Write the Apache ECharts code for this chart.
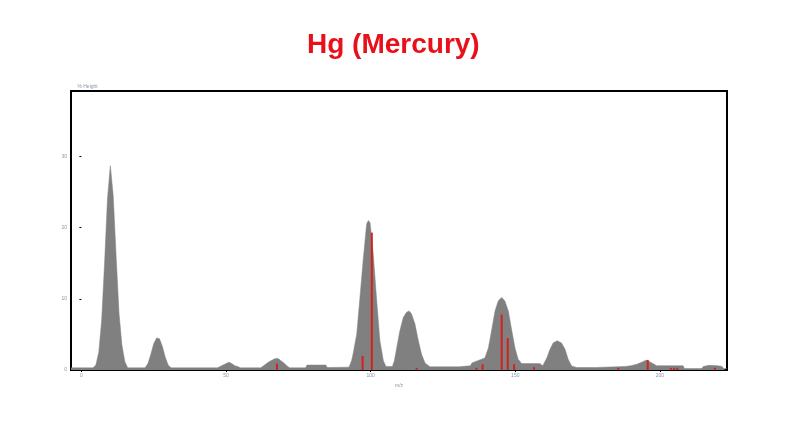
<!DOCTYPE html>
<html>
<head>
<meta charset="utf-8">
<script src="https://cdn.jsdelivr.net/npm/echarts@6/dist/echarts.min.js"></script>
<style>html,body{margin:0;padding:0;background:#fff}#c{width:802px;height:421px}</style>
</head>
<body>
<div id="c"></div>
<script>
// Measured spectrum (gray profile)
const specX = [-3.6, 4, 5, 6, 7, 8, 9, 10, 11, 12, 13, 14, 15, 16,
  22, 23, 24, 25, 26, 27, 28, 29, 30, 31,
  47, 48, 49, 50, 51, 52, 53, 54, 55,
  62, 63, 64, 65, 66, 67, 68, 69, 70, 71, 72,
  77.5, 78, 84.5, 85,
  92.5, 93.4, 94, 95.2, 96.3, 97.4, 98.6, 99.2, 99.8, 100.9, 102.1, 103.2, 104.4, 105.3,
  107.5, 108.2, 109, 110.1, 111.3, 112.4, 113.3, 114.1, 115.3, 116.5, 117.6, 118.8, 120.5,
  130.5, 131, 134.5, 135,
  139.5, 140.7, 141.8, 143, 144.1, 145.3, 146.4, 147.6, 148.8, 149.9, 151, 152.2, 158.5,
  159.5, 160.9, 162, 163.1, 164.5, 166, 167.2, 168.3, 169.5, 171.2, 178, 178.5,
  188, 190, 192, 193.7, 195.4, 197.2, 198.9, 208, 208.5,
  214.5, 215, 217, 220, 221.5, 222, 223.2];
const specY = [0.3, 0.3, 0.7, 2.5, 7, 15, 24, 28.7, 24.5, 16, 8, 3.5, 1.2, 0.3,
  0.3, 0.9, 2.2, 3.7, 4.5, 4.4, 3.3, 1.8, 0.7, 0.3,
  0.3, 0.5, 0.7, 0.9, 1.1, 0.9, 0.6, 0.5, 0.3,
  0.3, 0.6, 0.9, 1.2, 1.4, 1.6, 1.6, 1.3, 1.0, 0.6, 0.3,
  0.3, 0.7, 0.7, 0.35,
  0.4, 1.3, 2.4, 5.1, 10.2, 15.4, 20.5, 21, 20.7, 16.3, 9.7, 4.1, 1.3, 0.5,
  0.5, 1.3, 3.1, 5.5, 7.4, 8.1, 8.3, 7.9, 6.5, 4.1, 2.2, 1.0, 0.45,
  0.45, 0.6, 0.6, 1.0,
  1.7, 3.1, 5.5, 8.3, 9.7, 10.2, 9.7, 8.3, 5.5, 3.1, 1.5, 0.9, 0.9,
  0.6, 1.7, 2.9, 3.8, 4.1, 3.8, 2.9, 1.5, 0.55, 0.35, 0.35, 0.5,
  0.5, 0.6, 0.8, 1.1, 1.4, 1.0, 0.6, 0.6, 0.2,
  0.2, 0.5, 0.65, 0.6, 0.5, 0.2, 0.2];

// Stick (red line) positions and heights
const stickX = [67.6, 97.2, 100.4, 115.9, 136.6, 138.7, 145.3, 147.4, 149.6, 156.5, 185.6, 195.8, 203.8, 204.9, 206, 219];
const stickY = [0.9, 2.0, 19.3, 0.3, 0.3, 0.8, 7.8, 4.5, 0.8, 0.4, 0.3, 1.4, 0.3, 0.3, 0.3, 0.3];

const xTicks = [0, 50, 100, 150, 200];
const yTicks = [0, 10, 20, 30];

const spec = specX.map((x, i) => [x, specY[i]]);
const sticks = stickX.map((x, i) => [x, stickY[i]]);

const chart = echarts.init(document.getElementById('c'), null, {renderer: 'canvas'});
const labelStyle = {color: '#8a94a6', fontSize: 5, fontFamily: 'Liberation Sans'};
chart.setOption({
  animation: false,
  title: {
    text: 'Hg (Mercury)', left: 302, top: 26,
    textStyle: {color: '#e8101a', fontSize: 28, fontWeight: 'bold', fontFamily: 'Liberation Sans'}
  },
  grid: {left: 71, right: 75, top: 91, bottom: 51, show: true, borderColor: '#000', borderWidth: 2, backgroundColor: 'transparent'},
  xAxis: {
    type: 'value', min: -3.6, max: 223.2,
    name: 'm/z', nameLocation: 'middle', nameGap: 10, nameTextStyle: labelStyle,
    axisLine: {show: false},
    axisTick: {show: true, length: 2, customValues: xTicks, lineStyle: {color: '#000'}},
    axisLabel: {customValues: xTicks, margin: 3, ...labelStyle},
    splitLine: {show: false}
  },
  yAxis: {
    type: 'value', min: 0, max: 39.2, interval: 10,
    name: '% Height', nameLocation: 'end', nameGap: 2,
    nameTextStyle: {...labelStyle, align: 'left', padding: [0, 0, 0, -4]},
    axisLine: {show: false},
    axisTick: {show: true, length: 2, customValues: yTicks, lineStyle: {color: '#000'}},
    axisLabel: {customValues: yTicks, margin: 4, ...labelStyle},
    splitLine: {show: false}
  },
  series: [
    {
      type: 'line', data: spec, symbol: 'none', z: 2,
      lineStyle: {color: '#808080', width: 0.5},
      areaStyle: {color: '#808080', opacity: 1}
    },
    {
      type: 'bar', data: sticks, barWidth: 2, z: 3,
      itemStyle: {color: '#d42020'}
    }
  ]
});
</script>
</body>
</html>
